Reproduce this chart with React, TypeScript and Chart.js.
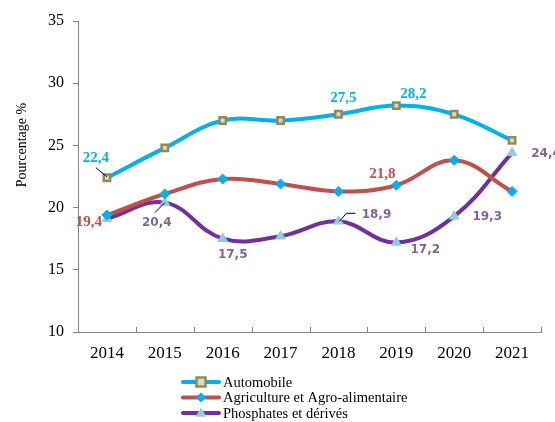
import React, { useEffect, useRef } from "react";
import { Chart, registerables } from "chart.js";

Chart.register(...registerables);

const years = ["2014", "2015", "2016", "2017", "2018", "2019", "2020", "2021"];
const automobile = [22.4, 24.8, 27.0, 27.0, 27.5, 28.2, 27.5, 25.4];
const agriculture = [19.4, 21.1, 22.3, 21.9, 21.3, 21.8, 23.8, 21.3];
const phosphates = [19.1, 20.4, 17.5, 17.7, 18.9, 17.2, 19.3, 24.4];
const seriesNames = ["Automobile", "Agriculture et Agro-alimentaire", "Phosphates et dérivés"];
const yTicks = [10, 15, 20, 25, 30, 35];
const yTitle = "Pourcentage %";

// value labels: series, point index, offset from point, optional leader path (relative)
const valueLabels = [
  { s: 0, i: 0, dx: -11, dy: -20, leader: [[0, -1], [-11, -10]] },
  { s: 0, i: 4, dx: 5, dy: -16 },
  { s: 0, i: 5, dx: 17, dy: -11 },
  { s: 1, i: 0, dx: -18, dy: 7 },
  { s: 1, i: 5, dx: -14, dy: -11 },
  { s: 2, i: 1, dx: -8, dy: 20, leader: [[0, 0], [-10, 10]] },
  { s: 2, i: 2, dx: 10, dy: 16 },
  { s: 2, i: 4, dx: 38, dy: -6, leader: [[1, 0], [8, -8], [17, -8]] },
  { s: 2, i: 5, dx: 29, dy: 7 },
  { s: 2, i: 6, dx: 33, dy: 1 },
  { s: 2, i: 7, dx: 34, dy: 1 },
];
const labelColors = ["#00B0F0", "#C0504D", "#8064A2"];
const labelFonts = [
  "bold 15px 'Liberation Serif', 'Times New Roman', serif",
  "bold 15px 'Liberation Serif', 'Times New Roman', serif",
  "bold 12px 'DejaVu Sans', Verdana, sans-serif",
];

const fmt = (v: number) => v.toFixed(1).replace(".", ",");

export default function App() {
  const ref = useRef<HTMLCanvasElement | null>(null);
  useEffect(() => {
    if (!ref.current) return;
    const serif = "'Liberation Serif', 'Times New Roman', serif";
    const overlay = {
      id: "overlay",
      afterDatasetsDraw(chart: any) {
        const ctx = chart.ctx;
        const xs = chart.scales.x;
        const ys = chart.scales.y;
        const area = chart.chartArea;
        ctx.save();
        // inner x ticks between categories
        ctx.strokeStyle = "#868686";
        ctx.lineWidth = 1;
        const step = xs.getPixelForValue(1) - xs.getPixelForValue(0);
        for (let k = 0; k <= years.length; k++) {
          const px = Math.round(xs.getPixelForValue(0) - step / 2 + k * step) + 0.5;
          ctx.beginPath();
          ctx.moveTo(px, area.bottom);
          ctx.lineTo(px, area.bottom - 5);
          ctx.stroke();
        }
        // value labels
        valueLabels.forEach((l) => {
          const ds = chart.data.datasets[l.s];
          const v = ds.data[l.i] as number;
          const px = xs.getPixelForValue(l.i);
          const py = ys.getPixelForValue(v);
          if (l.leader) {
            ctx.strokeStyle = "#000";
            ctx.lineWidth = 1;
            ctx.beginPath();
            l.leader.forEach((p: number[], j: number) => {
              if (j === 0) ctx.moveTo(px + p[0], py + p[1]);
              else ctx.lineTo(px + p[0], py + p[1]);
            });
            ctx.stroke();
          }
          ctx.fillStyle = labelColors[l.s];
          ctx.font = labelFonts[l.s];
          ctx.textAlign = "center";
          ctx.textBaseline = "middle";
          ctx.fillText(fmt(v), px + l.dx, py + l.dy);
        });
        // y title
        ctx.fillStyle = "#000";
        ctx.font = "14px " + serif;
        ctx.translate(22, 145);
        ctx.rotate(-Math.PI / 2);
        ctx.textAlign = "center";
        ctx.textBaseline = "middle";
        ctx.fillText(yTitle, 0, 0);
        ctx.restore();

        // legend
        ctx.save();
        chart.data.datasets.forEach((ds: any, j: number) => {
          const y = 382 + j * 15.5;
          ctx.strokeStyle = ds.borderColor;
          ctx.lineWidth = 4;
          ctx.lineCap = "round";
          ctx.beginPath();
          ctx.moveTo(183, y);
          ctx.lineTo(219, y);
          ctx.stroke();
          const r = ds.pointRadius;
          ctx.fillStyle = ds.pointBackgroundColor;
          ctx.strokeStyle = ds.pointBorderColor;
          ctx.lineWidth = ds.pointBorderWidth;
          ctx.beginPath();
          if (ds.pointStyle === "rect") {
            ctx.rect(201 - r, y - r, 2 * r, 2 * r);
            ctx.fill();
            ctx.stroke();
          } else if (ds.pointStyle === "rectRot") {
            ctx.moveTo(201, y - r);
            ctx.lineTo(201 + r, y);
            ctx.lineTo(201, y + r);
            ctx.lineTo(201 - r, y);
            ctx.closePath();
            ctx.fill();
          } else {
            ctx.moveTo(201, y - r);
            ctx.lineTo(201 + r, y + r * 0.7);
            ctx.lineTo(201 - r, y + r * 0.7);
            ctx.closePath();
            ctx.fill();
          }
          ctx.fillStyle = "#000";
          ctx.font = "14.5px " + serif;
          ctx.textAlign = "left";
          ctx.textBaseline = "middle";
          ctx.fillText(ds.label, 223, y + 1);
        });
        ctx.restore();
      },
    };

    const chart = new Chart(ref.current, {
      type: "line",
      data: {
        labels: years,
        datasets: [
          {
            label: seriesNames[0],
            data: automobile,
            borderColor: "#00B0F0",
            borderWidth: 4,
            tension: 0.4,
            pointStyle: "rect",
            pointRadius: 4.5,
            pointBackgroundColor: "#DDD9C3",
            pointBorderColor: "#948A54",
            pointBorderWidth: 2.5,
          },
          {
            label: seriesNames[1],
            data: agriculture,
            borderColor: "#C0504D",
            borderWidth: 4,
            tension: 0.4,
            pointStyle: "rectRot",
            pointRadius: 5,
            pointBackgroundColor: "#00B0F0",
            pointBorderColor: "#00B0F0",
            pointBorderWidth: 1,
          },
          {
            label: seriesNames[2],
            data: phosphates,
            borderColor: "#7030A0",
            borderWidth: 4,
            tension: 0.4,
            pointStyle: "triangle",
            pointRadius: 5.5,
            pointBackgroundColor: "#93CDDD",
            pointBorderColor: "#93CDDD",
            pointBorderWidth: 1,
          },
        ] as any,
      },
      options: {
        animation: false,
        responsive: true,
        maintainAspectRatio: false,
        layout: { padding: { top: 21, right: 14, bottom: 60, left: 0 } },
        plugins: { legend: { display: false }, tooltip: { enabled: false } },
        scales: {
          x: {
            offset: true,
            grid: { display: false, drawTicks: false },
            border: { display: true, color: "#868686", width: 1 },
            ticks: {
              color: "#000",
              font: { family: serif, size: 17 },
              padding: 11,
              maxRotation: 0,
            },
            afterFit: (s: any) => {
              s.height = 30;
            },
          },
          y: {
            min: 10,
            max: 35,
            afterBuildTicks: (s: any) => {
              s.ticks = yTicks.map((v) => ({ value: v }));
            },
            grid: { drawOnChartArea: false, drawTicks: true, tickLength: 5, color: "#868686" },
            border: { display: true, color: "#868686", width: 1 },
            ticks: {
              color: "#000",
              font: { family: serif, size: 16 },
              padding: 9,
            },
            afterFit: (s: any) => {
              s.width = 78;
            },
          },
        },
      },
      plugins: [overlay],
    });
    return () => chart.destroy();
  }, []);
  return (
    <div style={{ position: "absolute", left: 0, top: 0, width: 555, height: 422, background: "#fff" }}>
      <canvas ref={ref} />
    </div>
  );
}
